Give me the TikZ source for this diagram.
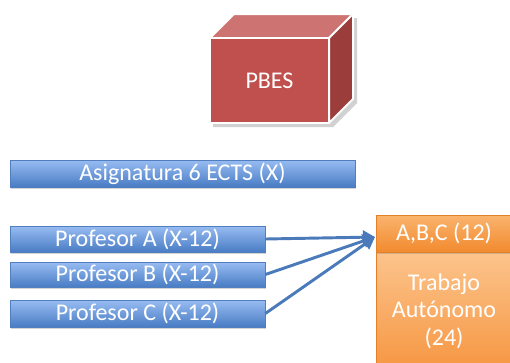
\documentclass[tikz,border=0pt]{standalone}
\usepackage{fontspec}
\setmainfont{Carlito}
\usetikzlibrary{shadows,arrows.meta}
\definecolor{bluetop}{RGB}{152,188,242}
\definecolor{bluebot}{RGB}{72,124,196}
\definecolor{blueedge}{RGB}{80,126,190}
\definecolor{arrowblue}{RGB}{74,122,186}
\definecolor{orgtop}{RGB}{250,180,110}
\definecolor{orgbot}{RGB}{242,138,46}
\definecolor{orgbodytop}{RGB}{252,196,140}
\definecolor{orgbodybot}{RGB}{246,150,66}
\definecolor{orgedge}{RGB}{228,128,40}
\definecolor{cubefront}{RGB}{192,80,77}
\definecolor{cubetop}{RGB}{205,115,113}
\definecolor{cuberight}{RGB}{155,61,59}
\begin{document}
\begin{tikzpicture}[x=0.75pt,y=-0.75pt,
  bar/.style={draw=blueedge,line width=0.5pt,top color=bluetop,bottom color=bluebot,
    text=white,font=\fontsize{18}{20}\selectfont,inner sep=0pt,
    drop shadow={opacity=0.35,shadow xshift=1pt,shadow yshift=-1.5pt}},
  orgbox/.style={draw=orgedge,line width=0.5pt,text=white,align=center,
    font=\fontsize{18}{20.5}\selectfont,inner sep=0pt,
    drop shadow={opacity=0.35,shadow xshift=1pt,shadow yshift=-1.5pt}},
  link/.style={draw=arrowblue,line width=2.2pt,-{Triangle[length=9pt,width=10pt]}},
  cubeedge/.style={draw=white,line width=1.5pt,line join=round}]
\useasboundingbox (0,0) rectangle (510,362);
% cube
\fill[black,opacity=0.18] (213,42) -- (237,18) -- (357,18) -- (357,103) -- (333,127) -- (213,127) -- cycle;
\filldraw[cubeedge,fill=cubetop] (210,38) -- (234,14) -- (353,14) -- (329,38) -- cycle;
\filldraw[cubeedge,fill=cuberight] (329,38) -- (353,14) -- (353,99) -- (329,123) -- cycle;
\filldraw[cubeedge,fill=cubefront] (210,38) rectangle (329,123);
\node[text=white,font=\fontsize{18}{20}\selectfont] (pbes) at (269.5,80.5) {PBES};
% bars
\node[bar,minimum width=258.75pt,minimum height=20.25pt] (asig) at (182.5,173.5) {Asignatura 6 ECTS (X)};
\node[bar,minimum width=191.25pt,minimum height=19.5pt] (pa) at (137.5,239) {Profesor A (X-12)};
\node[bar,minimum width=191.25pt,minimum height=18.75pt] (pb) at (137.5,274.5) {Profesor B (X-12)};
\node[bar,minimum width=191.25pt,minimum height=20.25pt] (pc) at (137.5,313.5) {Profesor C (X-12)};
% orange column
\node[orgbox,top color=orgbodytop,bottom color=orgbodybot,minimum width=102pt,minimum height=88.5pt] (trab) at (444,311) {Trabajo\\Autónomo\\(24)};
\node[orgbox,top color=orgtop,bottom color=orgbot,minimum width=102pt,minimum height=27.75pt] (abc) at (444,233.5) {A,B,C (12)};
\coordinate (tip) at (375,237);
\draw[link] (pa.east) -- (tip);
\draw[link] (pb.east) -- (tip);
\draw[link] (pc.east) -- (tip);
\end{tikzpicture}
\end{document}
